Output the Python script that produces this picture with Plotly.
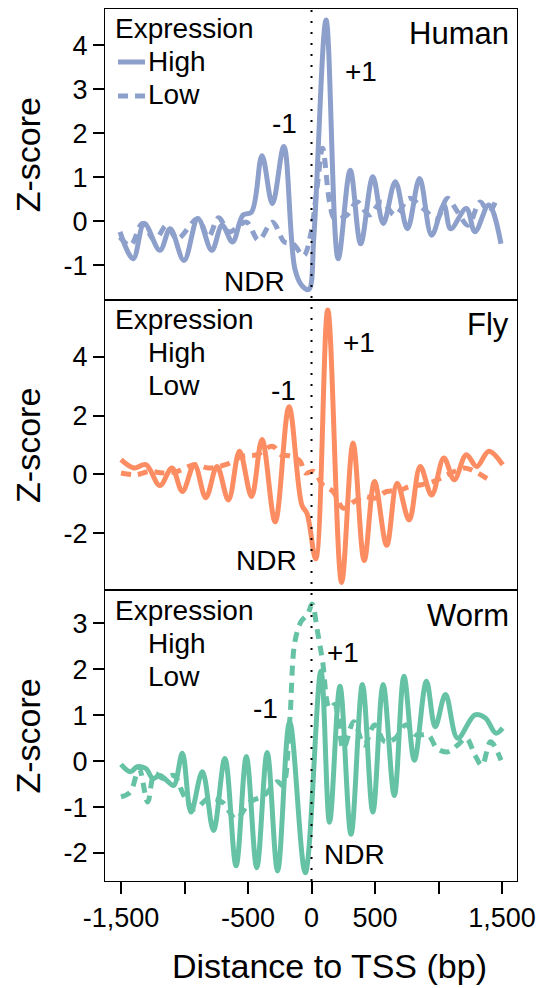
import plotly.graph_objects as go
from plotly.subplots import make_subplots

# ---- data: distance to TSS (bp) and nucleosome occupancy z-scores ----
human_high_x = [-1508, -1404, -1317, -1194, -1113, -1004, -894, -785, -704, -622, -540, -472,
                -390, -308, -218, -131, -76, -22, 19, 115, 210, 305, 387, 483, 565, 660, 755,
                851, 946, 1042, 1096, 1219, 1287, 1396, 1492]
human_high_y = [-0.24, -0.85, -0.05, -0.66, -0.17, -0.89, 0.06, -0.66, -0.09, -0.47, 0.14, 0.21,
                1.49, 0.40, 1.70, -1.08, -1.46, -1.55, -0.32, 4.57, -0.85, 1.16, -0.51, 1.01,
                -0.05, 0.90, -0.17, 0.97, -0.32, 0.37, -0.17, 0.29, -0.24, 0.37, -0.51]
human_low_x = [-1508, -1426, -1331, -1235, -1140, -1058, -894, -813, -731, -649, -513, -417,
               -308, -213, -145, -63, -8, 46, 87, 142, 183, 278, 360, 455, 551, 660, 769, 878,
               987, 1069, 1151, 1233, 1328, 1396, 1464]
human_low_y = [-0.36, -0.55, -0.05, -0.43, -0.09, -0.40, 0.06, -0.36, 0.08, -0.24, -0.02, -0.43,
               -0.02, -0.47, -0.51, -0.78, -0.32, 0.82, 1.66, 0.44, 0.06, 0.14, 0.44, 0.14, 0.44,
               0.14, 0.52, 0.29, 0.06, 0.52, 0.21, -0.09, 0.44, 0.21, 0.56]

fly_high_x = [-1500, -1399, -1304, -1194, -1099, -1017, -922, -832, -744, -654, -567, -472,
              -390, -286, -177, -76, -35, 33, 128, 237, 327, 415, 496, 592, 674, 769, 856, 946,
              1042, 1124, 1219, 1301, 1396, 1505]
fly_high_y = [0.50, 0.22, 0.33, -0.38, 0.22, -0.58, 0.33, -0.79, 0.27, -0.87, 0.79, -0.75,
              1.19, -1.61, 2.30, -1.04, -1.33, -2.87, 5.59, -3.67, 1.07, -2.93, -0.24, -2.41,
              -0.30, -1.55, 0.27, -0.70, 0.56, -0.18, 0.67, 0.27, 0.79, 0.33]
fly_low_x = [-1500, -1385, -1276, -1167, -1058, -922, -813, -676, -540, -431, -308, -240, -158,
             -90, -49, 19, 87, 169, 251, 333, 415, 496, 592, 687, 769, 864, 960, 1042, 1124,
             1205, 1287, 1355, 1424]
fly_low_y = [0.05, -0.01, 0.10, 0.05, 0.10, 0.33, 0.22, 0.33, 0.62, 0.67, 0.96, 0.67, 0.62,
             0.45, 0.05, 0.10, -0.35, -0.58, -1.15, -0.93, -0.75, -0.81, -0.58, -0.56, -0.41,
             -0.35, -0.24, -0.07, 0.10, 0.22, 0.10, -0.07, -0.24]

worm_high_x = [-1500, -1426, -1372, -1304, -1249, -1194, -1140, -1085, -1017, -949, -859, -772,
               -682, -594, -513, -431, -349, -267, -172, -49, 74, 142, 224, 311, 401, 483, 564,
               652, 728, 810, 905, 974, 1055, 1151, 1287, 1369, 1451, 1505]
worm_high_y = [-0.07, -0.23, -0.12, -0.16, -0.38, -0.31, -0.42, -0.53, 0.17, -1.11, -0.23, -1.51,
               0.06, -2.28, 0.10, -2.32, 0.19, -2.39, 0.86, -2.43, 1.96, -1.33, 1.63, -1.59,
               1.67, -1.11, 1.67, -0.75, 1.85, 0.02, 1.74, 0.75, 1.45, 0.50, 1.01, 0.94, 0.61,
               0.72]
worm_low_x = [-1500, -1426, -1358, -1290, -1235, -1167, -1085, -1004, -922, -813, -704, -594,
              -485, -376, -267, -226, -172, -131, -80, -30, 5, 46, 87, 142, 183, 251, 333, 415,
              496, 578, 660, 742, 824, 919, 987, 1069, 1151, 1219, 1287, 1342, 1410, 1492]
worm_low_y = [-0.78, -0.67, -0.16, -0.89, -0.27, -0.38, -0.31, -0.75, -1.04, -0.82, -0.89, -1.26,
              -0.89, -0.75, -0.45, -0.53, 0.86, 2.60, 3.05, 3.20, 3.42, 2.84, 2.18, 1.15, 1.23,
              0.28, 0.86, 0.35, 0.79, 0.42, 0.50, 0.79, 0.57, 0.57, 0.28, 0.20, 0.35, 0.50,
              0.13, -0.09, 0.42, 0.02]

x_tickvals = [-1500, -1000, -500, 0, 500, 1000, 1500]
x_ticktext = ["-1,500", "", "-500", "0", "500", "", "1,500"]

panels = [
    dict(name="Human", color="#8DA0CB", high=(human_high_x, human_high_y),
         low=(human_low_x, human_low_y), yrange=[-1.78, 4.82], yticks=[-1, 0, 1, 2, 3, 4]),
    dict(name="Fly", color="#FC8D62", high=(fly_high_x, fly_high_y),
         low=(fly_low_x, fly_low_y), yrange=[-3.94, 5.94], yticks=[-2, 0, 2, 4]),
    dict(name="Worm", color="#66C2A5", high=(worm_high_x, worm_high_y),
         low=(worm_low_x, worm_low_y), yrange=[-2.61, 3.72], yticks=[-2, -1, 0, 1, 2, 3]),
]

# ---- page geometry (pixels) ----
W, H = 543, 988
L, R, T, B = 105, 516.7, 8.5, 880.7
FONT = "Liberation Sans, Arial, Helvetica, sans-serif"


def px_x(px):
    return (px - L) / (R - L)


def px_y(py):
    return (B - py) / (B - T)


panel_h = (B - T) / 3
fig = make_subplots(rows=3, cols=1, shared_xaxes=True, vertical_spacing=0)

for i, p in enumerate(panels):
    row = i + 1
    for key, dash in (("high", "solid"), ("low", "10px,7px")):
        xs, ys = p[key]
        fig.add_trace(go.Scatter(x=xs, y=ys, mode="lines",
                                 line=dict(color=p["color"], width=5, dash=dash,
                                           shape="spline", smoothing=1.0),
                                 showlegend=False, hoverinfo="skip"),
                      row=row, col=1)
    top = T + i * panel_h
    bot = top + panel_h
    fig.update_yaxes(range=p["yrange"], tickvals=p["yticks"],
                     ticktext=[str(v) for v in p["yticks"]],
                     domain=[px_y(bot), px_y(top)],
                     showline=True, mirror=True, linecolor="black", linewidth=1.2,
                     ticks="outside", ticklen=11, tickwidth=1.5, tickcolor="black",
                     showgrid=False, zeroline=False,
                     tickfont=dict(family=FONT, size=27, color="black"),
                     row=row, col=1)
    fig.update_xaxes(range=[-1626, 1618], showline=True, mirror=True, linecolor="black",
                     linewidth=1.2, showgrid=False, zeroline=False, row=row, col=1)

    # species name and legend heading
    fig.add_annotation(text=p["name"], x=px_x(511), y=px_y(top + 25), xref="paper",
                       yref="paper", xanchor="right", yanchor="middle", showarrow=False,
                       font=dict(family=FONT, size=31, color="black"))
    fig.add_annotation(text="Expression", x=px_x(113), y=px_y(top + 20), xref="paper",
                       yref="paper", xanchor="left", yanchor="middle", showarrow=False,
                       font=dict(family=FONT, size=28, color="black"))
    fig.add_annotation(text="High", x=px_x(146), y=px_y(top + 53), xref="paper",
                       yref="paper", xanchor="left", yanchor="middle", showarrow=False,
                       font=dict(family=FONT, size=28, color="black"))
    fig.add_annotation(text="Low", x=px_x(146), y=px_y(top + 86), xref="paper",
                       yref="paper", xanchor="left", yanchor="middle", showarrow=False,
                       font=dict(family=FONT, size=28, color="black"))
    fig.add_annotation(text="Z-score", x=px_x(28), y=px_y((top + bot) / 2), xref="paper",
                       yref="paper", xanchor="center", yanchor="middle", showarrow=False,
                       textangle=-90, font=dict(family=FONT, size=34, color="black"))

# peak labels (left edge x, centre y in pixels)
peak_labels = [
    ("+1", 343, 71), ("-1", 270, 123), ("NDR", 222, 281),
    ("+1", 341, 342), ("-1", 269, 390), ("NDR", 234, 560),
    ("+1", 325, 652), ("-1", 251, 708), ("NDR", 322, 854),
]
for txt, lx, cy in peak_labels:
    fig.add_annotation(text=txt, x=px_x(lx), y=px_y(cy), xref="paper", yref="paper",
                       xanchor="left", yanchor="middle", showarrow=False,
                       font=dict(family=FONT, size=28, color="black"))

# legend line samples in the top panel
human_color = panels[0]["color"]
fig.add_shape(type="line", xref="paper", yref="paper", x0=px_x(118), x1=px_x(145),
              y0=px_y(61.5), y1=px_y(61.5), line=dict(color=human_color, width=5))
fig.add_shape(type="line", xref="paper", yref="paper", x0=px_x(118), x1=px_x(146),
              y0=px_y(95.5), y1=px_y(95.5),
              line=dict(color=human_color, width=5, dash="10px,7px"))

# TSS marker
fig.add_shape(type="line", xref="x3", yref="paper", x0=0, x1=0, y0=0, y1=1, layer="above",
              line=dict(color="black", width=2, dash="2px,9px"))

fig.update_xaxes(tickvals=x_tickvals, ticktext=x_ticktext, ticks="outside", ticklen=12,
                 tickwidth=1.5, tickcolor="black",
                 tickfont=dict(family=FONT, size=27, color="black"), row=3, col=1)

fig.add_annotation(text="Distance to TSS (bp)", x=px_x(329), y=px_y(966), xref="paper",
                   yref="paper", xanchor="center", yanchor="middle", showarrow=False,
                   font=dict(family=FONT, size=34, color="black"))

fig.update_layout(width=W, height=H, margin=dict(l=L, r=W - R, t=T, b=H - B),
                  paper_bgcolor="white", plot_bgcolor="white")

fig.write_html("out.html")
